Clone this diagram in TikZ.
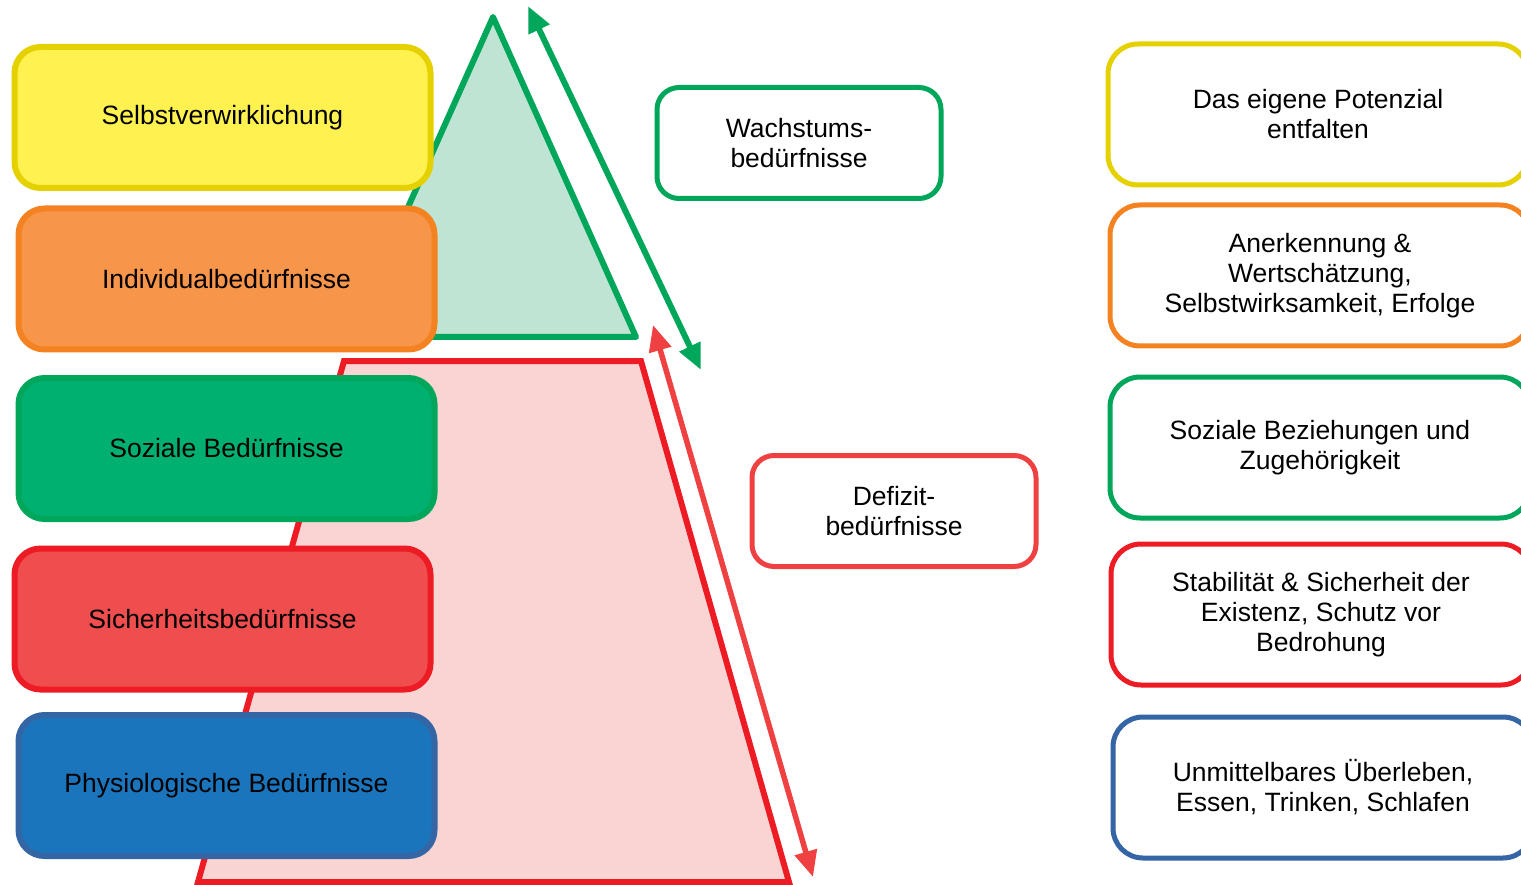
\documentclass[tikz,border=0pt]{standalone}
\usepackage{fontspec}
\setmainfont{Liberation Sans}
\usetikzlibrary{arrows.meta}
\definecolor{yfill}{RGB}{255,242,80}
\definecolor{ystroke}{RGB}{229,208,0}
\definecolor{ofill}{RGB}{247,150,74}
\definecolor{ostroke}{RGB}{244,130,32}
\definecolor{gfill}{RGB}{0,176,112}
\definecolor{gstroke}{RGB}{0,166,90}
\definecolor{rfill}{RGB}{240,78,78}
\definecolor{rstroke}{RGB}{237,28,36}
\definecolor{bfill}{RGB}{27,117,188}
\definecolor{bstroke}{RGB}{52,101,164}
\definecolor{lred}{RGB}{239,65,65}
\definecolor{trifill}{RGB}{191,228,212}
\definecolor{trapfill}{RGB}{250,212,211}
\tikzset{
  lvl/.style={draw, line width=6pt, rounded corners=26pt, minimum width=416pt, minimum height=141pt, align=center, font=\fontsize{26.5}{30}\selectfont, text=black},
  midbox/.style={draw, fill=white, line width=5pt, rounded corners=22pt, minimum width=284pt, minimum height=111pt, align=center, font=\fontsize{26.5}{30}\selectfont, text=black},
  descbox/.style={draw, fill=white, line width=5pt, rounded corners=30pt, minimum width=420pt, minimum height=141pt, align=center, font=\fontsize{26.5}{30}\selectfont, text=black},
  dbl/.style={line width=6pt, {Triangle[length=26pt,width=22pt]}-{Triangle[length=26pt,width=22pt]}}
}
\begin{document}
\begin{tikzpicture}[x=1pt,y=-1pt]
\useasboundingbox (0,0) rectangle (1521,885);
\clip (0,0) rectangle (1521,885);
% pyramid shapes
\draw[line width=6pt, draw=gstroke, fill=trifill, line join=round] (493,17) -- (636,337) -- (350,337) -- cycle;
\draw[line width=6pt, draw=rstroke, fill=trapfill, line join=miter] (344,361) -- (641,361) -- (789,882) -- (198,882) -- cycle;
% arrows
\coordinate (gA) at (528,6);
\coordinate (gB) at (701,370);
\coordinate (rA) at (653,325);
\coordinate (rB) at (813,877);
\draw[dbl, draw=gstroke, fill=gstroke] (gA) -- (gB);
\draw[dbl, draw=lred, fill=lred, line width=5.5pt] (rA) -- (rB);
% left levels
\node[lvl, fill=yfill, draw=ystroke] (l1) at (222.5,117.5) {Selbstverwirklichung};
\node[lvl, fill=ofill, draw=ostroke] (l2) at (226.5,279) {Individualbedürfnisse};
\node[lvl, fill=gfill, draw=gstroke] (l3) at (226.5,448.5) {Soziale Bedürfnisse};
\node[lvl, fill=rfill, draw=rstroke] (l4) at (222.5,619) {Sicherheitsbedürfnisse};
\node[lvl, fill=bfill, draw=bstroke] (l5) at (226.5,785.5) {Physiologische Bedürfnisse};
% middle
\node[midbox, draw=gstroke] (wb) at (799,143) {Wachstums-\\bedürfnisse};
\node[midbox, draw=lred] (db) at (894,511) {Defizit-\\bedürfnisse};
% right
\node[descbox, draw=ystroke] (r1) at (1318,114.5) {Das eigene Potenzial\\entfalten};
\node[descbox, draw=ostroke] (r2) at (1320,275.5) {Anerkennung \&\\Wertschätzung,\\Selbstwirksamkeit, Erfolge};
\node[descbox, draw=gstroke] (r3) at (1320,447.5) {Soziale Beziehungen und\\Zugehörigkeit};
\node[descbox, draw=rstroke] (r4) at (1321,614.5) {Stabilität \& Sicherheit der\\Existenz, Schutz vor\\Bedrohung};
\node[descbox, draw=bstroke] (r5) at (1323,787.5) {Unmittelbares Überleben,\\Essen, Trinken, Schlafen};
\end{tikzpicture}
\end{document}
